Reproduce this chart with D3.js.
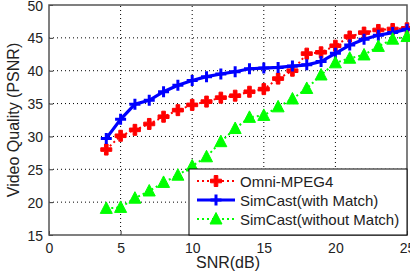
<!DOCTYPE html>
<html>
<head>
<meta charset="utf-8">
<script src="https://cdnjs.cloudflare.com/ajax/libs/d3/7.8.5/d3.min.js"></script>
<style>
  body { margin: 0; background: #fff; }
  text { font-family: "Liberation Sans", Arial, sans-serif; fill: #222; }
</style>
</head>
<body>
<script>
// données
var snr = [4,5,6,7,8,9,10,11,12,13,14,15,16,17,18,19,20,21,22,23,24,25];
var omni = [28.0,30.1,31.0,31.9,33.0,34.0,34.8,35.3,35.9,36.2,36.8,37.2,38.8,40.0,42.6,42.8,43.8,45.2,45.8,46.2,46.35,46.45];
var withMatch = [29.7,32.6,34.9,35.5,36.8,37.8,38.5,39.1,39.5,39.85,40.3,40.4,40.5,40.7,40.9,41.4,42.65,43.9,44.8,45.4,45.8,46.3];
var withoutMatch = [19.05,19.2,20.6,21.7,23.0,24.1,25.5,26.9,29.2,31.2,32.9,33.2,34.5,35.7,37.3,39.35,41.2,41.9,42.4,43.7,44.8,45.2];
var xTicks = [0,5,10,15,20,25];
var yTicks = [15,20,25,30,35,40,45,50];
var seriesNames = ["Omni-MPEG4", "SimCast(with Match)", "SimCast(without Match)"];

var W = 410, H = 278;
var m = {left: 49, right: 3, top: 5, bottom: 43};

var svg = d3.select("body").append("svg").attr("width", W).attr("height", H);

var x = d3.scaleLinear().domain([0, 25]).range([m.left, W - m.right]);
var y = d3.scaleLinear().domain([15, 50]).range([H - m.bottom, m.top]);

// grille pointillée
svg.append("g").selectAll("line").data(xTicks.slice(1, -1)).enter().append("line")
  .attr("x1", d => x(d)).attr("x2", d => x(d))
  .attr("y1", y(15)).attr("y2", y(50))
  .attr("stroke", "#000").attr("stroke-width", 1).attr("stroke-dasharray", "1,3");
svg.append("g").selectAll("line").data(yTicks.slice(1, -1)).enter().append("line")
  .attr("x1", x(0)).attr("x2", x(25))
  .attr("y1", d => y(d)).attr("y2", d => y(d))
  .attr("stroke", "#000").attr("stroke-width", 1).attr("stroke-dasharray", "1,3");

// axes
var xAxis = svg.append("g").attr("transform", "translate(0," + y(15) + ")")
  .call(d3.axisBottom(x).tickValues(xTicks).tickSize(-4).tickPadding(8));
var yAxis = svg.append("g").attr("transform", "translate(" + x(0) + ",0)")
  .call(d3.axisLeft(y).tickValues(yTicks).tickSize(-4).tickPadding(6));
[xAxis, yAxis].forEach(function(g) {
  g.select(".domain").remove();
  g.selectAll("line").attr("stroke", "#333");
  g.selectAll("text").style("font-size", "14px").attr("fill", "#222")
    .style("font-family", "'Liberation Sans', Arial, sans-serif");
});
yAxis.selectAll("text").attr("dy", "0.36em");

// cadre
svg.append("rect").attr("x", x(0)).attr("y", y(50))
  .attr("width", x(25) - x(0)).attr("height", y(15) - y(50))
  .attr("fill", "none").attr("stroke", "#555").attr("stroke-width", 1.5);

// courbes
var data = [
  {name: seriesNames[0], vals: omni, color: "#ff0000", dash: "2,3", width: 2, marker: "plus"},
  {name: seriesNames[1], vals: withMatch, color: "#0000ff", dash: null, width: 3.2, marker: "cross"},
  {name: seriesNames[2], vals: withoutMatch, color: "#00ff00", dash: "2,3", width: 2, marker: "tri"}
];

var line = d3.line().x((d, i) => x(snr[i])).y(d => y(d));

function drawMarker(g, type, color) {
  if (type === "plus") {
    g.append("path").attr("d", "M-5.5,-1.8H-1.8V-5.5H1.8V-1.8H5.5V1.8H1.8V5.5H-1.8V1.8H-5.5Z")
      .attr("fill", color).attr("stroke", color).attr("stroke-width", 1);
  } else if (type === "cross") {
    g.append("path").attr("d", "M-5.5,0H5.5M0,-5.5V5.5").attr("stroke", color).attr("stroke-width", 3);
  } else {
    g.append("path").attr("d", "M0,-6.5L6,5H-6Z").attr("fill", color).attr("stroke", color).attr("stroke-width", 1);
  }
}

data.forEach(function(s) {
  svg.append("path").datum(s.vals).attr("d", line)
    .attr("fill", "none").attr("stroke", s.color).attr("stroke-width", s.width)
    .attr("stroke-dasharray", s.dash);
  svg.append("g").selectAll("g").data(s.vals).enter().append("g")
    .attr("transform", (d, i) => "translate(" + x(snr[i]) + "," + y(d) + ")")
    .each(function() { drawMarker(d3.select(this), s.marker, s.color); });
});

// légende
var lg = svg.append("g").attr("transform", "translate(189,169)");
lg.append("rect").attr("width", x(25) - 189).attr("height", y(15) - 169)
  .attr("fill", "#fff").attr("stroke", "#000").attr("stroke-width", 1);
var rowY = [12, 31, 50];
data.forEach(function(s, i) {
  var r = lg.append("g").attr("transform", "translate(0," + rowY[i] + ")");
  r.append("line").attr("x1", 8).attr("x2", 46).attr("y1", 0).attr("y2", 0)
    .attr("stroke", s.color).attr("stroke-width", s.width).attr("stroke-dasharray", s.dash);
  var mk = r.append("g").attr("transform", "translate(27,0)");
  drawMarker(mk, s.marker, s.color);
  r.append("text").attr("x", 51).attr("y", 5.5).style("font-size", "15px").text(s.name);
});

// titres des axes
svg.append("text").attr("x", (x(0) + x(25)) / 2).attr("y", 268)
  .attr("text-anchor", "middle").style("font-size", "16px").text("SNR(dB)");
svg.append("text").attr("transform", "translate(19," + ((y(15) + y(50)) / 2) + ") rotate(-90)")
  .attr("text-anchor", "middle").style("font-size", "16px").text("Video Quality (PSNR)");
</script>
</body>
</html>
